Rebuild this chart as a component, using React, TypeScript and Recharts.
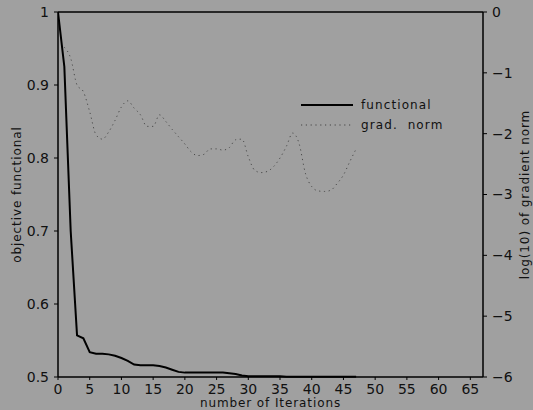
import React from 'react';
import { LineChart, Line, XAxis, YAxis, ReferenceLine } from 'recharts';

// iterations 0..47
const iterations = Array.from({ length: 48 }, (_, i) => i);

const functionalValues = [
  1.0, 0.925, 0.7, 0.557, 0.553, 0.534, 0.532, 0.532, 0.531, 0.529,
  0.526, 0.522, 0.517, 0.516, 0.516, 0.516, 0.515, 0.513, 0.51, 0.507,
  0.506, 0.506, 0.506, 0.506, 0.506, 0.506, 0.506, 0.505, 0.504, 0.502,
  0.501, 0.501, 0.501, 0.501, 0.501, 0.501, 0.5005, 0.5005, 0.5005, 0.5005,
  0.5004, 0.5004, 0.5004, 0.5004, 0.5003, 0.5003, 0.5003, 0.5003,
];

// log10 of gradient norm, no value at iteration 0
const gradNormValues = [
  null, -0.58, -0.76, -1.2, -1.31, -1.64, -2.02, -2.09, -1.97, -1.78,
  -1.56, -1.46, -1.58, -1.69, -1.88, -1.88, -1.69, -1.8, -1.93, -2.05,
  -2.17, -2.3, -2.36, -2.34, -2.25, -2.25, -2.27, -2.23, -2.1, -2.09,
  -2.38, -2.6, -2.64, -2.62, -2.54, -2.4, -2.21, -1.99, -2.16, -2.65,
  -2.87, -2.94, -2.95, -2.93, -2.82, -2.68, -2.46, -2.25,
];

const xTicks = [0, 5, 10, 15, 20, 25, 30, 35, 40, 45, 50, 55, 60, 65];
const leftTicks = [0.5, 0.6, 0.7, 0.8, 0.9, 1];
const rightTicks = [-6, -5, -4, -3, -2, -1, 0];

const data = iterations.map((it, i) => ({
  it,
  functional: functionalValues[i],
  grad: gradNormValues[i],
}));

const BG = '#a0a0a0';
const FONT = '"DejaVu Sans", sans-serif';
const tickStyle = { fill: '#111', fontSize: 14, fontFamily: FONT };
const labelStyle = { fill: '#111', fontSize: 12, fontFamily: FONT, letterSpacing: 0.9 };

const LegendBox = () => (
  <div style={{ position: 'absolute', left: 300, top: 95, fontFamily: FONT, fontSize: 12, letterSpacing: 1.1, color: '#111' }}>
    <div style={{ display: 'flex', alignItems: 'center', height: 20 }}>
      <svg width={54} height={6} style={{ marginRight: 7 }}>
        <line x1={1} y1={3} x2={53} y2={3} stroke="#000" strokeWidth={2} />
      </svg>
      <span>functional</span>
    </div>
    <div style={{ display: 'flex', alignItems: 'center', height: 20 }}>
      <svg width={54} height={6} style={{ marginRight: 7 }}>
        <line x1={1} y1={3} x2={53} y2={3} stroke="#444" strokeWidth={1} strokeDasharray="1.2 3.6" />
      </svg>
      <span>grad.&nbsp; norm</span>
    </div>
  </div>
);

export default function App() {
  return (
    <div style={{ position: 'fixed', left: 0, top: 0, width: 533, height: 410, background: BG }}>
      <LineChart width={533} height={410} data={data} margin={{ top: 12, right: 0, bottom: 0, left: 0 }}>
        <XAxis
          dataKey="it"
          type="number"
          domain={[0, 67]}
          ticks={xTicks}
          allowDataOverflow
          tick={tickStyle}
          tickSize={3}
          tickMargin={4}
          height={33}
          axisLine={{ stroke: '#000', strokeWidth: 1.5 }}
          tickLine={{ stroke: '#000', strokeWidth: 1 }}
          label={{ value: 'number of Iterations', position: 'insideBottom', offset: 3, style: labelStyle }}
        />
        <YAxis
          yAxisId="left"
          domain={[0.5, 1]}
          ticks={leftTicks}
          width={58}
          tick={tickStyle}
          tickSize={4}
          tickMargin={5}
          axisLine={{ stroke: '#000', strokeWidth: 1.5 }}
          tickLine={{ stroke: '#000', strokeWidth: 1 }}
          label={{ value: 'objective functional', angle: -90, position: 'insideLeft', offset: 17, style: { ...labelStyle, textAnchor: 'middle' } }}
        />
        <YAxis
          yAxisId="right"
          orientation="right"
          domain={[-6, 0]}
          ticks={rightTicks}
          width={50}
          tick={tickStyle}
          tickFormatter={(v: number) => (v < 0 ? '\u2212' + Math.abs(v) : String(v))}
          tickSize={4}
          tickMargin={5}
          axisLine={{ stroke: '#000', strokeWidth: 1.5 }}
          tickLine={{ stroke: '#000', strokeWidth: 1 }}
          label={{ value: 'log(10)  of  gradient  norm', angle: -90, position: 'insideRight', offset: 8, style: { ...labelStyle, textAnchor: 'middle' } }}
        />
        <ReferenceLine yAxisId="left" y={1} stroke="#000" strokeWidth={1.5} />
        <Line
          yAxisId="right"
          type="monotone"
          dataKey="grad"
          stroke="#4a4a4a"
          strokeWidth={1}
          strokeDasharray="1.2 3.6"
          dot={false}
          isAnimationActive={false}
        />
        <Line
          yAxisId="left"
          type="linear"
          dataKey="functional"
          stroke="#000"
          strokeWidth={2}
          dot={false}
          isAnimationActive={false}
        />
      </LineChart>
      <LegendBox />
    </div>
  );
}
